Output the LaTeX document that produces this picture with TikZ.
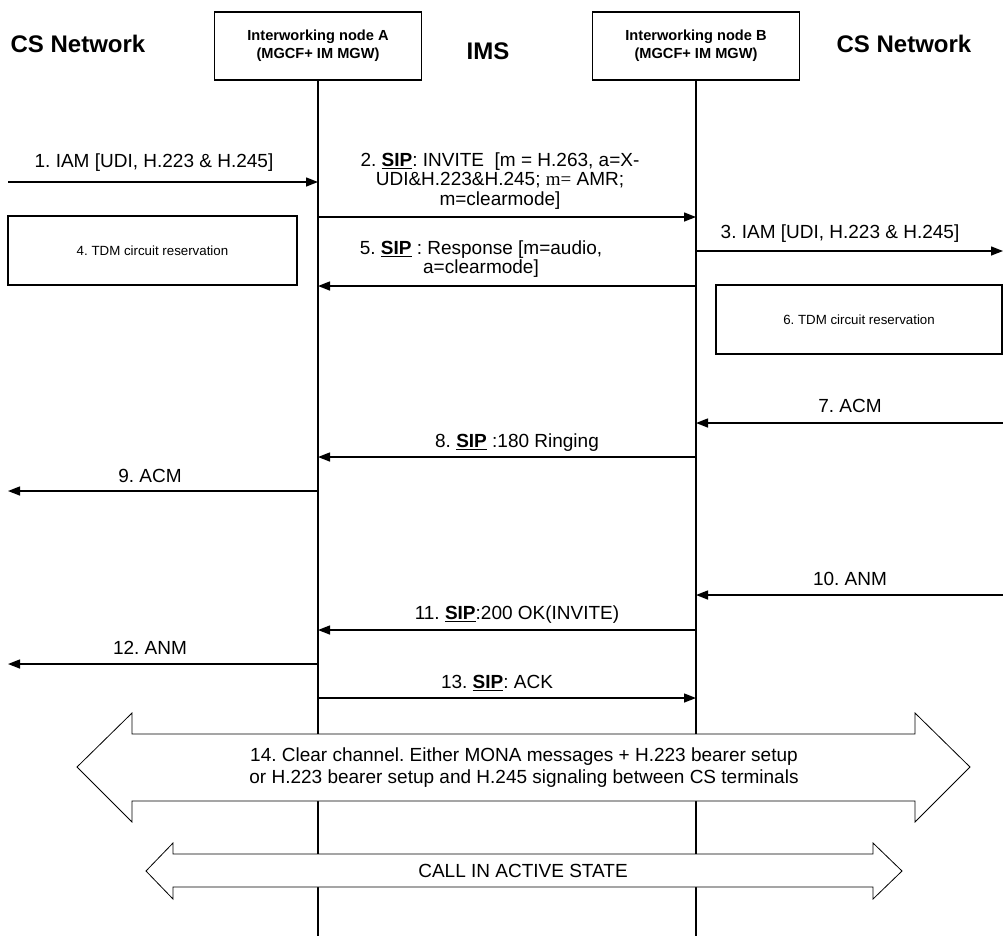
\documentclass[tikz,border=0pt]{standalone}
\usepackage{fontspec}
\setmainfont{Liberation Sans}
\newfontfamily\serifm{Liberation Serif}
\usetikzlibrary{arrows.meta, positioning, calc}

\newcommand{\sipword}{\underline{\textbf{SIP}}}
\frenchspacing

\begin{document}
\begin{tikzpicture}[x=1pt, y=-1pt,
    every node/.style={inner sep=0pt},
    msg/.style={line width=1.4pt, -{Triangle[length=12pt,width=9pt]}},
    lbl/.style={font=\fontsize{19}{19.5}\selectfont, align=center},
    hdr/.style={font=\bfseries\fontsize{24}{28}\selectfont},
    nodebox/.style={draw, line width=1.2pt, minimum width=207pt, minimum height=68pt, align=center, font=\bfseries\fontsize{14.6}{18}\selectfont},
    tdmbox/.style={draw, line width=1.2pt, minimum height=69pt, font=\fontsize{13.3}{16}\selectfont},
    bigarrow/.style={draw, fill=white, line width=0.8pt}]
    \useasboundingbox (0,0) rectangle (1003,938);

    % Domains
    \node[hdr] (csLeft) at (78,44) {CS Network};
    \node[hdr] (ims) at (488,51) {IMS};
    \node[hdr] (csRight) at (904,44) {CS Network};

    % Interworking nodes and lifelines
    \node[nodebox] (nodeA) at (318,46) {Interworking node A\\(MGCF+ IM MGW)};
    \node[nodebox] (nodeB) at (696,46) {Interworking node B\\(MGCF+ IM MGW)};
    \coordinate (endA) at (318,936);
    \coordinate (endB) at (696,936);
    \draw[line width=1.2pt] (nodeA.south) -- (endA);
    \draw[line width=1.2pt] (nodeB.south) -- (endB);

    % Free ends of the CS side messages
    \coordinate (m1) at (8,182);
    \coordinate (m3) at (1003,251);
    \coordinate (m7) at (1003,423);
    \coordinate (m9) at (8,491);
    \coordinate (m10) at (1003,595);
    \coordinate (m12) at (8,664);

    % Call setup
    \draw[msg] (m1) -- (m1 -| nodeA);
    \node[lbl] (l1) at (154,163) {1. IAM [UDI, H.223 \& H.245]};

    \coordinate (m2) at (318,217);
    \draw[msg] (m2) -- (m2 -| nodeB);
    \node[lbl] (l2) at (500,181) {2. \sipword: INVITE~ [m = H.263, a=X-\\UDI\&H.223\&H.245; {\serifm m=} AMR;\\m=clearmode]};

    \draw[msg] (m3 -| nodeB) -- (m3);
    \node[lbl] (l3) at (840,234) {3. IAM [UDI, H.223 \& H.245]};

    \node[tdmbox, minimum width=289pt] (tdmA) at (152.5,250.5) {4. TDM circuit reservation};

    \coordinate (m5) at (696,286);
    \draw[msg] (m5) -- (m5 -| nodeA);
    \node[lbl] (l5) at (481,259) {5. \sipword{} : Response [m=audio,\\a=clearmode]};

    \node[tdmbox, minimum width=286pt] (tdmB) at (859,319.5) {6. TDM circuit reservation};

    % Alerting
    \draw[msg] (m7) -- (m7 -| nodeB);
    \node[lbl] (l7) at (850,406) {7. ACM};

    \coordinate (m8) at (696,457);
    \draw[msg] (m8) -- (m8 -| nodeA);
    \node[lbl] (l8) at (517,443) {8. \sipword{} :180 Ringing};

    \draw[msg] (m9 -| nodeA) -- (m9);
    \node[lbl] (l9) at (150,476) {9. ACM};

    % Answer
    \draw[msg] (m10) -- (m10 -| nodeB);
    \node[lbl] (l10) at (850,579) {10. ANM};

    \coordinate (m11) at (696,630);
    \draw[msg] (m11) -- (m11 -| nodeA);
    \node[lbl] (l11) at (517,615) {11. \sipword:200 OK(INVITE)};

    \draw[msg] (m12 -| nodeA) -- (m12);
    \node[lbl] (l12) at (150,648) {12. ANM};

    \coordinate (m13) at (318,698);
    \draw[msg] (m13) -- (m13 -| nodeB);
    \node[lbl] (l13) at (497,683) {13. \sipword: ACK};

    % Clear channel
    \draw[bigarrow] (77,767) -- (132,713) -- (132,734) -- (915,734) -- (915,713) -- (970,767)
        -- (915,822) -- (915,801) -- (132,801) -- (132,822) -- cycle;
    \node[lbl, font=\fontsize{19}{22}\selectfont] (clear) at (524,768) {14. Clear channel. Either MONA messages + H.223 bearer setup\\or H.223 bearer setup and H.245 signaling between CS terminals};

    % Active call
    \draw[bigarrow] (146,871) -- (173,843) -- (173,854) -- (873,854) -- (873,843) -- (902,871)
        -- (873,899) -- (873,887) -- (173,887) -- (173,899) -- cycle;
    \node[lbl] (active) at (523,871) {CALL IN ACTIVE STATE};
\end{tikzpicture}
\end{document}
